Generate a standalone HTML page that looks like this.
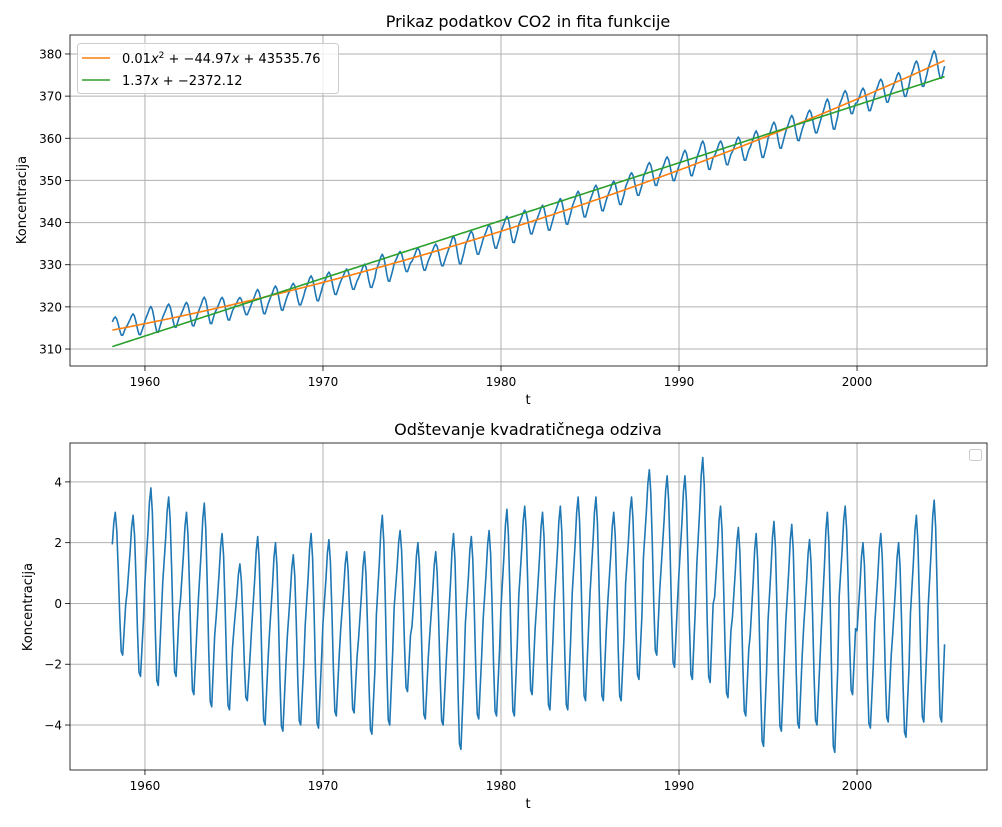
<!DOCTYPE html>
<html><head><meta charset="utf-8"><style>
html,body{margin:0;padding:0;background:#fff;}
svg{display:block;font-family:"DejaVu Sans","Liberation Sans",sans-serif;}
</style></head><body>
<svg id="fig" width="1002" height="827" viewBox="0 0 1002 827"></svg>
<script>
// ---- data ----
const years = [1958,1959,1960,1961,1962,1963,1964,1965,1966,1967,1968,1969,1970,1971,1972,1973,1974,1975,1976,1977,1978,1979,1980,1981,1982,1983,1984,1985,1986,1987,1988,1989,1990,1991,1992,1993,1994,1995,1996,1997,1998,1999,2000,2001,2002,2003,2004];
// residual (CO2 minus quadratic fit) yearly peak and trough
const residPeak = [3.0,2.9,3.8,3.5,3.0,3.3,2.3,1.3,2.2,2.0,1.6,2.3,2.1,1.7,1.7,2.9,2.4,2.0,1.7,2.3,2.2,2.4,3.1,3.2,3.0,3.2,3.5,3.5,3.0,3.5,4.4,4.2,4.2,4.8,3.2,2.5,2.3,2.7,2.6,2.1,3.0,3.2,2.0,2.3,2.0,2.9,3.4];
const residTrough = [-1.7,-2.4,-2.7,-2.4,-3.0,-3.4,-3.5,-3.2,-4.0,-4.2,-4.0,-4.1,-3.7,-3.6,-4.3,-4.0,-2.9,-3.8,-4.0,-4.8,-3.8,-3.7,-3.7,-3.0,-3.5,-3.5,-3.2,-3.2,-3.2,-2.5,-1.7,-2.1,-2.5,-2.6,-3.1,-3.7,-4.7,-4.2,-4.1,-4.0,-4.9,-3.0,-4.1,-3.9,-4.4,-3.9,-3.9];
const seasonShape = [0.05,0.3,0.55,0.85,1.0,0.75,0.2,-0.45,-0.95,-1.0,-0.65,-0.3];
const quadCoef = [0.0118,1.3674,339.96]; // centered at 1981.5
const lineCoef = [1.37,-2372.12];
const xTicks = [1960,1970,1980,1990,2000];
const yTicksTop = [310,320,330,340,350,360,370,380];
const yTicksBot = [-4,-2,0,2,4];
// ---- build series ----
const quad = t => { const u=t-1981.5; return quadCoef[0]*u*u+quadCoef[1]*u+quadCoef[2]; };
const lin = t => lineCoef[0]*t+lineCoef[1];
const T=[], R=[], C=[];
years.forEach((y,i)=>{
  const mid=(residPeak[i]+residTrough[i])/2, half=(residPeak[i]-residTrough[i])/2;
  for(let m=0;m<12;m++){
    if(y===1958 && m<2) continue;
    const t=y+m/12;
    const r=mid+half*seasonShape[m];
    T.push(t); R.push(r); C.push(quad(t)+r);
  }
});
// ---- drawing ----
const NS="http://www.w3.org/2000/svg", svg=document.getElementById('fig');
function el(tag,attrs,parent){const e=document.createElementNS(NS,tag);for(const k in attrs)e.setAttribute(k,attrs[k]);(parent||svg).appendChild(e);return e;}
function axes(top,bottom,ymin,ymax,yticks,title,name){
  const L=70,Rr=987;
  const xs=t=>L+(t-1955.79)/(2007.30-1955.79)*(Rr-L);
  const ys=v=>bottom-(v-ymin)/(ymax-ymin)*(bottom-top);
  const g=el('g',{});
  
  
  xTicks.forEach(t=>{
    const l=el('line',{x1:xs(t),x2:xs(t),y1:top,y2:bottom,stroke:'#b0b0b0','stroke-width':1},g);
    
    
    el('line',{x1:xs(t),x2:xs(t),y1:bottom,y2:bottom+5,stroke:'#000','stroke-width':0.8},g);
    const tx=el('text',{x:xs(t),y:bottom+20,'text-anchor':'middle','font-size':12},g);tx.textContent=t;
    
    
  });
  yticks.forEach(v=>{
    const l=el('line',{x1:L,x2:Rr,y1:ys(v),y2:ys(v),stroke:'#b0b0b0','stroke-width':1},g);
    
    
    el('line',{x1:L-5,x2:L,y1:ys(v),y2:ys(v),stroke:'#000','stroke-width':0.8},g);
    const tx=el('text',{x:L-8,y:ys(v)+4.5,'text-anchor':'end','font-size':12},g);tx.textContent=(v<0?'\u2212'+(-v):v);
    
    
  });
  const tt=el('text',{x:528,y:top-8,'text-anchor':'middle','font-size':16},g);tt.textContent=title;
  
  
  const xl=el('text',{x:528,y:bottom+38,'text-anchor':'middle','font-size':13},g);xl.textContent='t';
  
  
  return {xs,ys,g,L,Rr,top,bottom};
}
function path(ax,xsArr,ysArr,color,name){
  let d='';xsArr.forEach((t,i)=>{d+=(i?'L':'M')+ax.xs(t).toFixed(2)+','+ax.ys(ysArr[i]).toFixed(2);});
  const p=el('path',{d,fill:'none',stroke:color,'stroke-width':1.6,'stroke-linejoin':'round'},ax.g);
  
  
}
function frame(ax){
  const r=el('rect',{x:ax.L,y:ax.top,width:ax.Rr-ax.L,height:ax.bottom-ax.top,fill:'none',stroke:'#000','stroke-width':0.8},ax.g);
  
  
}
// top
const a1=axes(35,366,305.97,384.5,yTicksTop,'Prikaz podatkov CO2 in fita funkcije','top-chart');
path(a1,T,C,'#1f77b4','co2-series');
path(a1,T,T.map(quad),'#ff7f0e','quadratic-fit-line');
path(a1,T,T.map(lin),'#2ca02c','linear-fit-line');
frame(a1);
const yl1=el('text',{x:0,y:0,'text-anchor':'middle','font-size':13,transform:'translate(26,200) rotate(-90)'});yl1.textContent='Koncentracija';


// legend
const lg=el('g',{});


el('rect',{x:77.5,y:43.5,width:261,height:50,rx:3,fill:'#fff','fill-opacity':0.8,stroke:'#ccc'},lg);
el('line',{x1:82,x2:110,y1:58,y2:58,stroke:'#ff7f0e','stroke-width':1.6},lg);
el('line',{x1:82,x2:110,y1:80,y2:80,stroke:'#2ca02c','stroke-width':1.6},lg);
const lt1=el('text',{x:122,y:63,'font-size':13},lg);
lt1.innerHTML='0.01<tspan font-style="italic">x</tspan><tspan dy="-5" font-size="9">2</tspan><tspan dy="5"> + \u221244.97</tspan><tspan font-style="italic">x</tspan> + 43535.76';


const lt2=el('text',{x:122,y:85,'font-size':13},lg);
lt2.innerHTML='1.37<tspan font-style="italic">x</tspan> + \u22122372.12';


// bottom
const a2=axes(443,770,-5.48,5.28,yTicksBot,'Odštevanje kvadratičnega odziva','bottom-chart');
path(a2,T,R,'#1f77b4','residual-series');
frame(a2);
const yl2=el('text',{x:0,y:0,'text-anchor':'middle','font-size':13,transform:'translate(32,607) rotate(-90)'});yl2.textContent='Koncentracija';


const el2=el('rect',{x:969.5,y:449.5,width:12,height:11,rx:2,fill:'#fff',stroke:'#ccc'});


</script>
</body></html>
